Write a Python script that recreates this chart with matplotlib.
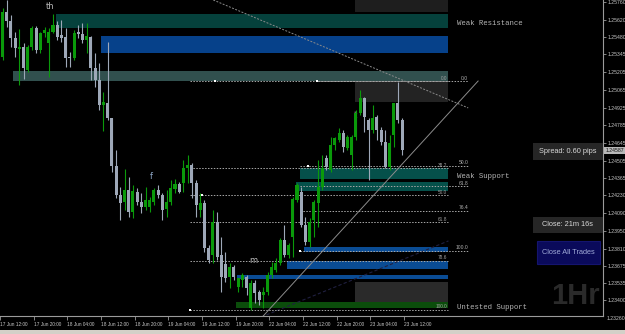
import matplotlib
matplotlib.use('Agg')
import matplotlib.pyplot as plt
from matplotlib.patches import Rectangle
from matplotlib import font_manager

# hourly candles, 17 Jun 12:00 -> 23 Jun 12:00
opens = [1.25325, 1.25681, 1.25610, 1.25475, 1.25388, 1.25404, 1.25222, 1.25404, 1.25554, 1.25381,
         1.25515, 1.25436, 1.25523, 1.25578, 1.25499, 1.25483, 1.25325, 1.25317, 1.25523, 1.25507,
         1.25460, 1.25483, 1.25238, 1.25143, 1.24945, 1.24961, 1.24843, 1.24463, 1.24234, 1.24178,
         1.24273, 1.24099, 1.24257, 1.24178, 1.24139, 1.24139, 1.24178, 1.24273, 1.24234, 1.24123,
         1.24178, 1.24281, 1.24321, 1.24328, 1.24447, 1.24471, 1.24328, 1.24115, 1.24170, 1.23814,
         1.23759, 1.24020, 1.23759, 1.23688, 1.23585, 1.23664, 1.23506, 1.23561, 1.23585, 1.23340,
         1.23537, 1.23466, 1.23442, 1.23466, 1.23601, 1.23640, 1.23696, 1.23878, 1.23759, 1.23901,
         1.24194, 1.24257, 1.23996, 1.23862, 1.24036, 1.24170, 1.24297, 1.24526, 1.24431, 1.24629,
         1.24669, 1.24724, 1.24605, 1.24550, 1.24692, 1.24882, 1.25001, 1.24827, 1.24748, 1.24851,
         1.24748, 1.24653, 1.24455, 1.24708, 1.24961, 1.24827]
highs = [1.25713, 1.25776, 1.25657, 1.25523, 1.25547, 1.25436, 1.25420, 1.25570, 1.25570, 1.25523,
         1.25562, 1.25554, 1.25665, 1.25610, 1.25618, 1.25554, 1.25365, 1.25539, 1.25578, 1.25594,
         1.25594, 1.25491, 1.25357, 1.25278, 1.25048, 1.25444, 1.24843, 1.24589, 1.24297, 1.24439,
         1.24376, 1.24313, 1.24289, 1.24249, 1.24297, 1.24218, 1.24289, 1.24313, 1.24249, 1.24273,
         1.24352, 1.24360, 1.24336, 1.24510, 1.24550, 1.24487, 1.24352, 1.24249, 1.24194, 1.23838,
         1.24115, 1.24099, 1.23901, 1.23783, 1.23696, 1.23680, 1.23577, 1.23617, 1.23601, 1.23561,
         1.23561, 1.23482, 1.23506, 1.23624, 1.23704, 1.23735, 1.23893, 1.23996, 1.23854, 1.24218,
         1.24328, 1.24297, 1.24059, 1.24052, 1.24194, 1.24510, 1.24550, 1.24550, 1.24692, 1.24692,
         1.24764, 1.24748, 1.24708, 1.24708, 1.24906, 1.25064, 1.25009, 1.24843, 1.24945, 1.24866,
         1.24772, 1.24748, 1.24708, 1.24961, 1.25127, 1.24843]
lows = [1.25301, 1.25562, 1.25404, 1.25325, 1.25104, 1.25151, 1.25206, 1.25381, 1.25357, 1.25357,
        1.25483, 1.25167, 1.25515, 1.25460, 1.25444, 1.25246, 1.25246, 1.25301, 1.25475, 1.25436,
        1.25357, 1.25143, 1.25088, 1.24906, 1.24740, 1.24827, 1.24415, 1.24210, 1.24036, 1.24115,
        1.24059, 1.24052, 1.24154, 1.24091, 1.24115, 1.24099, 1.24154, 1.24210, 1.24036, 1.24059,
        1.24154, 1.24249, 1.24249, 1.24257, 1.24328, 1.24210, 1.24059, 1.24059, 1.23783, 1.23696,
        1.23696, 1.23719, 1.23466, 1.23545, 1.23498, 1.23561, 1.23466, 1.23506, 1.23442, 1.23324,
        1.23379, 1.23363, 1.23340, 1.23442, 1.23577, 1.23624, 1.23680, 1.23743, 1.23735, 1.23743,
        1.24178, 1.23980, 1.23838, 1.23822, 1.23901, 1.23980, 1.24273, 1.24431, 1.24415, 1.24589,
        1.24653, 1.24574, 1.24589, 1.24431, 1.24669, 1.24866, 1.24732, 1.24352, 1.24724, 1.24669,
        1.24629, 1.24447, 1.24431, 1.24613, 1.24803, 1.24550]
closes = [1.25681, 1.25610, 1.25475, 1.25396, 1.25404, 1.25238, 1.25404, 1.25554, 1.25381, 1.25515,
          1.25539, 1.25523, 1.25578, 1.25483, 1.25475, 1.25317, 1.25317, 1.25515, 1.25507, 1.25460,
          1.25491, 1.25238, 1.25143, 1.24945, 1.24969, 1.24843, 1.24463, 1.24234, 1.24170, 1.24273,
          1.24099, 1.24265, 1.24178, 1.24139, 1.24194, 1.24194, 1.24273, 1.24234, 1.24115, 1.24178,
          1.24289, 1.24321, 1.24257, 1.24447, 1.24471, 1.24328, 1.24154, 1.24170, 1.23814, 1.23719,
          1.24020, 1.23743, 1.23585, 1.23577, 1.23664, 1.23585, 1.23577, 1.23601, 1.23498, 1.23537,
          1.23458, 1.23403, 1.23466, 1.23601, 1.23664, 1.23696, 1.23878, 1.23759, 1.23838, 1.24202,
          1.24313, 1.23996, 1.23862, 1.24020, 1.24178, 1.24297, 1.24447, 1.24455, 1.24629, 1.24684,
          1.24724, 1.24613, 1.24692, 1.24692, 1.24882, 1.25001, 1.24851, 1.24748, 1.24843, 1.24748,
          1.24653, 1.24455, 1.24645, 1.24961, 1.24827, 1.24587]

time_labels = ['17 Jun 12:00', '17 Jun 20:00', '18 Jun 04:00', '18 Jun 12:00', '18 Jun 20:00',
               '19 Jun 04:00', '19 Jun 12:00', '19 Jun 20:00', '22 Jun 04:00', '22 Jun 12:00',
               '22 Jun 20:00', '23 Jun 04:00', '23 Jun 12:00']
price_ticks = [1.25760, 1.25620, 1.25480, 1.25345, 1.25205, 1.25065, 1.24925, 1.24785, 1.24645,
               1.24505, 1.24365, 1.24230, 1.24090, 1.23950, 1.23810, 1.23675, 1.23535, 1.23400]
last_tick = 1.23260
bid = 1.24587

# supply / demand zones: first bar, top price, bottom price
zone_start = [12.6, 23.5, 2.4, 83.8, 83.8, 70.8, 69.8, 71.7, 67.7, 55.8, 83.8, 55.6]
zone_top = [1.25665, 1.25491, 1.25214, 1.25800, 1.25127, 1.24447, 1.24336, 1.23822, 1.23712,
            1.23601, 1.23545, 1.23387]
zone_bottom = [1.25554, 1.25357, 1.25135, 1.25681, 1.24969, 1.24360, 1.24265, 1.23783, 1.23648,
               1.23569, 1.23387, 1.23340]
zone_end = 106.0
zone_colors = ['#05413c', '#06418a', '#31504e', '#1e1e1e', '#232323', '#05504a', '#05504a',
               '#0a4c94', '#0a4c94', '#0a4c94', '#2a2a2a', '#0b4d0b']
zone_names = ['Weak Resistance', 'Weak Support', 'Untested Support']
zone_name_price = [1.25594, 1.24376, 1.23340]

# fibonacci retracements
fib_a = (1.25135, 1.23324)
fib_a_ratios = [0.0, 38.2, 50.0, 61.8, 78.6, 100.0]
fib_b = (1.25135, 1.23791)
fib_b_ratios = [0.0, 50.0, 61.8, 76.4, 100.0]
anchor_bar = [50.6, 74.8, 47.5, 44.6, 72.7, 70.8]
anchor_price = [1.25135, 1.25135, 1.24234, 1.23324, 1.24463, 1.23791]

wave_labels = ['th', 'f', 'm', 't']
wave_bar = [11.4, 35.4, 59.6, 83.8]
wave_price = [1.25721, 1.24376, 1.23719, 1.24866]

names = {f.name for f in font_manager.fontManager.ttflist}
narrow = 'Liberation Sans' if 'Liberation Sans' in names else 'DejaVu Sans'
mono = 'Liberation Mono' if 'Liberation Mono' in names else 'DejaVu Sans Mono'

W, H = 625, 334
fig = plt.figure(figsize=(W / 100, H / 100), dpi=100, facecolor='black')
ax = fig.add_axes([0, 18 / H, 603 / W, 316 / H])
ax.set_facecolor('black')
ax.set_xlim(-0.475, 142.74)
ax.set_ylim(1.23276, 1.25776)

for s, t, b, c in zip(zone_start, zone_top, zone_bottom, zone_colors):
    ax.add_patch(Rectangle((s, b), zone_end - s, t - b, facecolor=c, edgecolor='none', zorder=1))

for name, p in zip(zone_names, zone_name_price):
    ax.text(108.1, p, name, color='#b4b4b4', fontsize=5.3, family=mono, va='center', ha='left')

bars = list(range(len(opens)))
up = [c >= o for o, c in zip(opens, closes)]
col = ['#0a9a0a' if u else '#9ea8b8' for u in up]
ax.vlines(bars, lows, highs, colors=col, linewidth=0.8, zorder=4)
ax.bar(bars, [max(abs(c - o), 0.00003) for o, c in zip(opens, closes)],
       bottom=[min(o, c) for o, c in zip(opens, closes)], width=0.72, color=col, zorder=5)

dot = dict(color='#a8a8a8', linestyle=(0, (1.5, 1.5)), linewidth=0.7, zorder=3)
hi, lo = fib_a
for r in fib_a_ratios:
    p = hi - (hi - lo) * r / 100
    ax.plot([44.6, 106], [p, p], **dot)
    ax.text(105.6, p + 0.00004, '%.1f' % r, color='#a0a0a0', fontsize=3.4, family=narrow,
            ha='right', va='bottom', zorder=6)
hi, lo = fib_b
for r in fib_b_ratios:
    p = hi - (hi - lo) * r / 100
    ax.plot([70.8 if r else 74.8, 110.7], [p, p], **dot)
    ax.text(110.7, p + 0.00004, '%.1f' % r, color='#b0b0b0', fontsize=3.6, family=narrow,
            ha='right', va='bottom', zorder=6)
ax.scatter(anchor_bar, anchor_price, s=3, marker='s', color='white', zorder=7, linewidths=0)

# trend lines
ax.plot([50.1, 110.7], [1.25776, 1.24922], color='#8a8a8a', linestyle=(0, (2, 1.5)), linewidth=0.7, zorder=3)
ax.plot([61.75, 113.05], [1.23268, 1.25135], color='#8c8c8c', linewidth=0.7, zorder=3)
ax.plot([61.5, 106], [1.23268, 1.23870], color='#202040', linestyle=(0, (3, 2)), linewidth=0.8, zorder=2)

for t, b, p in zip(wave_labels, wave_bar, wave_price):
    ax.text(b, p, t, color='#8fa8c8' if t == 'f' else '#b8b8b8', fontsize=6, ha='center', va='center')

# axes styling
for side in ['left', 'top']:
    ax.spines[side].set_visible(False)
for side in ['right', 'bottom']:
    ax.spines[side].set_color('#9a9a9a')
    ax.spines[side].set_linewidth(0.8)
ax.yaxis.tick_right()
ax.set_yticks(price_ticks)
ax.set_yticklabels(['%.5f' % p for p in price_ticks])
ax.tick_params(axis='y', colors='#9a9a9a', labelcolor='#c8c8c8', length=2, width=0.6, pad=1,
               labelsize=3.7)
ax.set_xticks([8 * i - 0.6 for i in range(len(time_labels))])
ax.set_xticklabels(time_labels)
ax.tick_params(axis='x', colors='#9a9a9a', labelcolor='#c8c8c8', length=3, width=0.6, pad=1.5,
               labelsize=3.4)
for lab in ax.get_xticklabels() + ax.get_yticklabels():
    lab.set_family(narrow)
for lab in ax.get_xticklabels():
    lab.set_ha('left')
ax.text(1.0066, last_tick, '%.5f' % last_tick, transform=ax.get_yaxis_transform(), color='#c8c8c8',
        fontsize=3.7, family=narrow, va='center', ha='left', clip_on=False)
ax.text(1.004, bid, '%.5f' % bid, transform=ax.get_yaxis_transform(), color='#101010',
        fontsize=3.7, family=narrow, va='center', ha='left', clip_on=False, zorder=10,
        bbox=dict(boxstyle='square,pad=0.2', facecolor='#b8b8b8', edgecolor='none'))


def fig_box(x0, y0, x1, y1, face, edge='none'):
    fig.add_artist(Rectangle((x0 / W, 1 - y1 / H), (x1 - x0) / W, (y1 - y0) / H,
                             transform=fig.transFigure, facecolor=face, edgecolor=edge, linewidth=0.8))


fig_box(533, 143, 603, 160, '#262626')
fig.text(568 / W, 1 - 151.5 / H, 'Spread: 0.60 pips', color='#d8d8d8', fontsize=5.3, family=narrow,
         ha='center', va='center')
fig_box(533, 217, 603, 233, '#262626')
fig.text(568 / W, 1 - 225 / H, 'Close: 21m 16s', color='#d8d8d8', fontsize=5.3, family=narrow,
         ha='center', va='center')
fig_box(537, 241, 600, 264, '#0a0a5a', '#14146e')
fig.text(568.5 / W, 1 - 252.5 / H, 'Close All Trades', color='#a0aad8', fontsize=5.3, family=narrow,
         ha='center', va='center')
fig.text(575 / W, 1 - 296 / H, '1Hr', color='#2a2a2a', fontsize=21, fontweight='bold', family=narrow,
         ha='center', va='center')
fig_box(0, 330, W, H, '#d4d0c8')

fig.savefig('out.png', dpi=100, facecolor='black')
